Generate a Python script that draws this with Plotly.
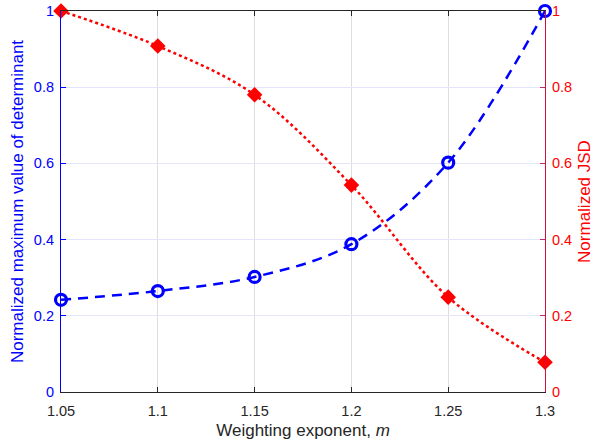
import plotly.graph_objects as go

m_values = [1.05, 1.1, 1.15, 1.2, 1.25, 1.3]
det_norm = [0.242, 0.265, 0.302, 0.388, 0.602, 1.0]
jsd_norm = [1.0, 0.908, 0.780, 0.543, 0.249, 0.078]
x_ticks = [1.05, 1.1, 1.15, 1.2, 1.25, 1.3]
y_ticks = [0, 0.2, 0.4, 0.6, 0.8, 1]

FONT = "Liberation Sans, Arial, Helvetica, sans-serif"
BLUE = "#0000ff"
RED = "#ff0000"

fig = go.Figure()
fig.add_trace(go.Scatter(
    x=m_values, y=det_norm, mode="lines+markers", line_shape="spline",
    line=dict(color=BLUE, width=2.5, dash="10px,7px"),
    marker=dict(symbol="circle-open", size=11, color=BLUE, line=dict(width=3.2, color=BLUE)),
    yaxis="y", showlegend=False, cliponaxis=False,
))
fig.add_trace(go.Scatter(
    x=m_values, y=jsd_norm, mode="lines+markers", line_shape="spline",
    line=dict(color=RED, width=2.5, dash="dot"),
    marker=dict(symbol="diamond", size=12, color=RED),
    yaxis="y2", showlegend=False, cliponaxis=False,
))

fig.update_layout(
    width=597, height=446,
    margin=dict(l=60.5, r=52, t=10.7, b=53.7, autoexpand=False),
    paper_bgcolor="white", plot_bgcolor="white",
    font=dict(family=FONT, size=14, color="#262626"),
    xaxis=dict(
        range=[1.05, 1.3], tickvals=x_ticks, ticktext=[f"{v:g}" for v in x_ticks],
        showgrid=True, gridcolor="#dedede", gridwidth=1,
        showline=True, linecolor="#262626", linewidth=1.2, mirror="ticks",
        ticks="inside", ticklen=5, tickcolor="#262626",
        tickfont=dict(size=14.5, color="#262626"), ticklabelstandoff=5,
        title=dict(text="Weighting exponent, <i>m</i>", font=dict(size=17, color="#262626"), standoff=6),
        zeroline=False, automargin=False,
    ),
    yaxis=dict(
        range=[0, 1], tickvals=y_ticks,
        showgrid=True, gridcolor="#e4e4fb", gridwidth=1,
        showline=True, linecolor=BLUE, linewidth=1.2,
        ticks="inside", ticklen=5, tickcolor=BLUE,
        tickfont=dict(size=14.5, color=BLUE), ticklabelstandoff=3,
        title=dict(text="Normalized maximum value of determinant", font=dict(size=17, color=BLUE), standoff=5),
        zeroline=False, automargin=False,
    ),
    yaxis2=dict(
        range=[0, 1], tickvals=y_ticks, overlaying="y", side="right",
        showgrid=False,
        showline=True, linecolor="#d0103a", linewidth=1.2,
        ticks="inside", ticklen=5, tickcolor="#b8306a",
        tickfont=dict(size=14.5, color=RED), ticklabelstandoff=3,
        title=dict(text="Normalized JSD", font=dict(size=17, color=RED), standoff=6),
        zeroline=False, automargin=False,
    ),
)

fig.write_html("out.html", config={"displayModeBar": False},
               post_script="document.body.style.margin='0';")
